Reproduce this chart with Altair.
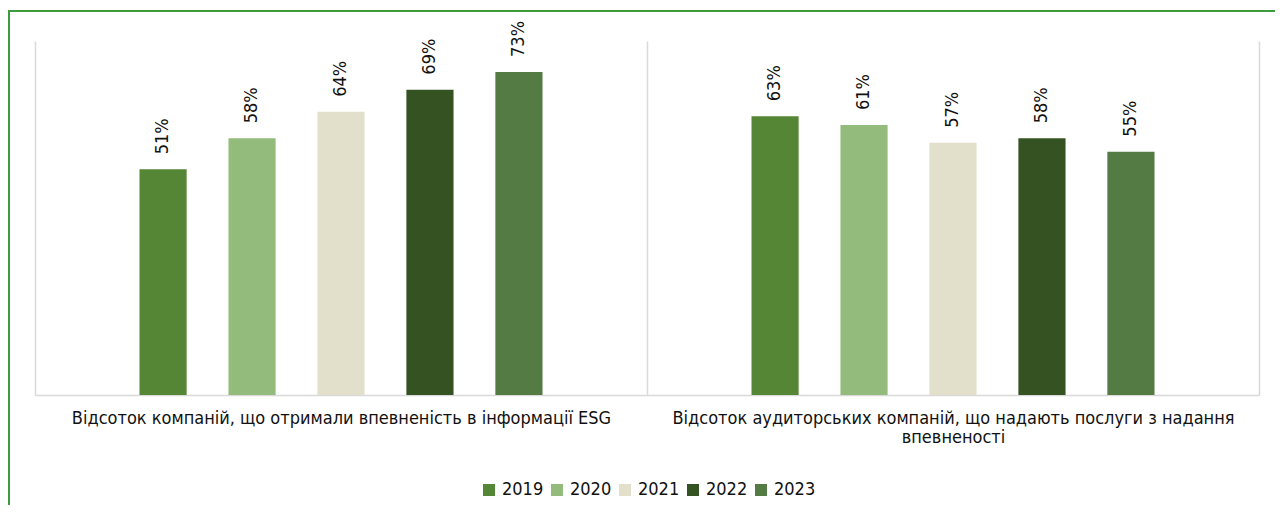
import altair as alt
import pandas as pd

categories = [
    "Відсоток компаній, що отримали впевненість в інформації ESG",
    "Відсоток аудиторських компаній, що надають послуги з надання впевненості",
]
label_lines = [
    ["Відсоток компаній, що отримали впевненість в інформації ESG"],
    ["Відсоток аудиторських компаній, що надають послуги з надання", "впевненості"],
]
years = ["2019", "2020", "2021", "2022", "2023"]
values_esg = [0.51, 0.58, 0.64, 0.69, 0.73]
values_audit = [0.63, 0.61, 0.57, 0.58, 0.55]
colors = ["#558636", "#93bc7c", "#e2dfcb", "#355322", "#537b43"]

rows = []
for y, v in zip(years, values_esg):
    rows.append({"category": categories[0], "year": y, "value": v})
for y, v in zip(years, values_audit):
    rows.append({"category": categories[1], "year": y, "value": v})
df = pd.DataFrame(rows)

FONT = "DejaVu Sans Condensed, DejaVu Sans"
TEXT_COLOR = "#111111"

# multi-line label expression built from label_lines
expr = "datum.label"
for cat, lines in zip(categories, label_lines):
    arr = "[" + ", ".join("'" + l + "'" for l in lines) + "]"
    expr = f"datum.label == '{cat}' ? {arr} : ({expr})"

x_enc = alt.X(
    "category:N",
    sort=categories,
    scale=alt.Scale(paddingInner=0, paddingOuter=0),
    axis=alt.Axis(
        title=None,
        labelExpr=expr,
        ticks=False,
        tickBand="extent",
        grid=True,
        gridColor="#d9d9d9",
        gridWidth=1.5,
        domainColor="#d9d9d9",
        domainWidth=1.5,
        labelFontSize=18,
        labelFont=FONT,
        labelColor=TEXT_COLOR,
        labelPadding=14,
        labelLineHeight=19,
        labelLimit=0,
        labelAngle=0,
    ),
)
xo_enc = alt.XOffset(
    "year:N",
    sort=years,
    scale=alt.Scale(range=[104.5, 507.5], paddingInner=0.47, paddingOuter=0),
)
y_enc = alt.Y(
    "value:Q",
    scale=alt.Scale(domain=[0, 0.8], nice=False, zero=True),
    axis=None,
)

base = alt.Chart(df)

bars = base.mark_bar().encode(
    x=x_enc,
    xOffset=xo_enc,
    y=y_enc,
    color=alt.Color(
        "year:N",
        sort=years,
        scale=alt.Scale(domain=years, range=colors),
        legend=alt.Legend(
            title=None,
            orient="none",
            legendX=445,
            legendY=440,
            direction="horizontal",
            symbolType="square",
            symbolSize=144,
            symbolStrokeWidth=0,
            labelFontSize=18,
            labelFont=FONT,
            labelColor=TEXT_COLOR,
            columnPadding=4,
            labelOffset=4,
            padding=0,
        ),
    ),
)

labels = base.mark_text(
    angle=270,
    align="left",
    baseline="middle",
    dx=15,
    fontSize=18,
    font=FONT,
    color=TEXT_COLOR,
).encode(
    x=x_enc,
    xOffset=xo_enc,
    y=y_enc,
    text=alt.Text("value:Q", format=".0%"),
)

frame = alt.Chart(pd.DataFrame({"frame": [0]})).mark_rect(
    fillOpacity=0, stroke="#3d9a3d", strokeWidth=2
).encode(
    x=alt.value(-26),
    x2=alt.value(1400),
    y=alt.value(-30),
    y2=alt.value(700),
)

chart = (
    alt.layer(bars, labels, frame)
    .properties(
        width=1224,
        height=354,
        autosize=alt.AutoSizeParams(type="none"),
        padding={"left": 27, "top": 33, "right": 16, "bottom": 110},
        background="white",
    )
    .configure_view(stroke=None)
)

chart.save("out.html", embed_options={"renderer": "svg", "actions": False})
